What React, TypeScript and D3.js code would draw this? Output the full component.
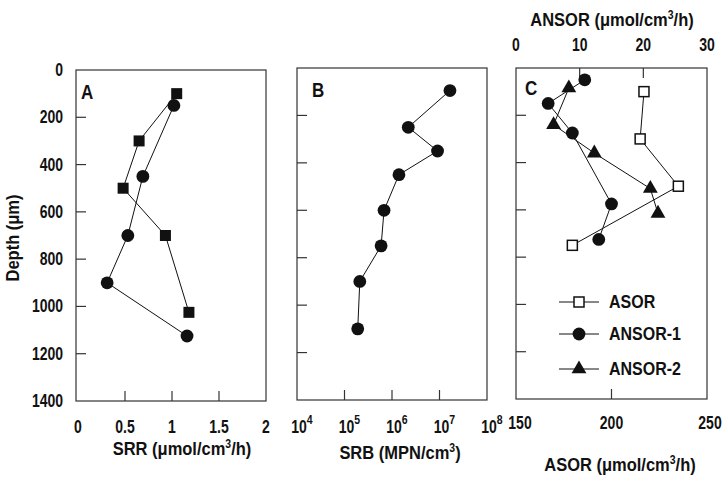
import React from "react";
import * as d3 from "d3";

const depthTicks = [0, 200, 400, 600, 800, 1000, 1200, 1400];
const srrTicks = [0, 0.5, 1, 1.5, 2];
const srbTicks = [1e4, 1e5, 1e6, 1e7, 1e8];
const asorTicks = [150, 200, 250];
const ansorTicks = [0, 10, 20, 30];

// panel A: SRR, two profiles
const srrSquareDepth = [100, 300, 500, 700, 1025];
const srrSquare = [1.05, 0.65, 0.48, 0.93, 1.18];
const srrCircleDepth = [150, 450, 700, 900, 1125];
const srrCircle = [1.02, 0.69, 0.53, 0.31, 1.16];

// panel B: SRB counts
const srbDepth = [95, 250, 350, 450, 600, 750, 900, 1100];
const srb = [1.66e7, 2.2e6, 9.1e6, 1.4e6, 6.8e5, 5.9e5, 2.1e5, 1.9e5];

// panel C: ASOR (bottom axis), ANSOR (top axis)
const asorDepth = [100, 300, 500, 750];
const asor = [217, 215, 235, 179.5];
const ansor1Depth = [50, 150, 275, 575, 725];
const ansor1 = [10.8, 5.05, 8.85, 15, 13];
const ansor2Depth = [85, 240, 360, 510, 615];
const ansor2 = [8.3, 5.9, 12.3, 21.1, 22.3];

const legendNames = ["ASOR", "ANSOR-1", "ANSOR-2"];

const font = "'Liberation Sans', Arial, sans-serif";
const ink = "#111";
const frame = "#333";
const tickLen = 10;

const pA = { l: 76, r: 266, t: 70, b: 401 };
const pB = { l: 297, r: 487, t: 68, b: 400 };
const pC = { l: 516, r: 707, t: 68, b: 399 };

const line = (pts: [number, number][]) => d3.line()(pts) || "";

// the scanned lettering is taller than it is wide, so stretch it a bit
const T: React.FC<any> = ({ x, y, size = 14, stretch = 1.25, anchor = "start", rotate = 0, children }) => (
  <text
    transform={`translate(${x},${y}) rotate(${rotate}) scale(1,${stretch})`}
    textAnchor={anchor}
    style={{ fontFamily: font, fontSize: size, fontWeight: 700, fill: ink }}
  >
    {children}
  </text>
);

const Marker: React.FC<{ kind: string; x: number; y: number }> = ({ kind, x, y }) => {
  if (kind === "circle") return <circle cx={x} cy={y} r={6.4} fill={ink} />;
  if (kind === "square") return <rect x={x - 5.5} y={y - 5.5} width={11} height={11} fill={ink} />;
  if (kind === "open") return <rect x={x - 5} y={y - 5} width={10} height={10} fill="#fff" stroke={ink} strokeWidth={1.5} />;
  const tri = d3.symbol(d3.symbolTriangle, 95)() || "";
  return <path d={tri} transform={`translate(${x},${y})`} fill={ink} />;
};

const Series: React.FC<{ xs: number[]; ys: number[]; kind: string; sx: any; sy: any }> = ({ xs, ys, kind, sx, sy }) => {
  const pts: [number, number][] = xs.map((v, i) => [sx(v), sy(ys[i])]);
  return (
    <g>
      <path d={line(pts)} fill="none" stroke={ink} strokeWidth={1} />
      {pts.map((p, i) => (
        <Marker key={i} kind={kind} x={p[0]} y={p[1]} />
      ))}
    </g>
  );
};

const Frame: React.FC<{ p: any }> = ({ p }) => (
  <rect x={p.l} y={p.t} width={p.r - p.l} height={p.b - p.t} fill="none" stroke={frame} strokeWidth={1.2} />
);

const LeftTicks: React.FC<{ p: any; sy: any }> = ({ p, sy }) => (
  <g stroke={frame} strokeWidth={1.2}>
    {depthTicks.slice(1, -1).map((d) => (
      <line key={d} x1={p.l} x2={p.l + tickLen} y1={sy(d)} y2={sy(d)} />
    ))}
  </g>
);

const Cubed: React.FC<{ pre: string; post: string }> = ({ pre, post }) => (
  <>
    {pre}
    <tspan dy={-6} fontSize={10.5}>3</tspan>
    <tspan dy={6}>{post}</tspan>
  </>
);

export default function App() {
  const yA = d3.scaleLinear().domain([0, 1400]).range([pA.t, pA.b]);
  const yB = d3.scaleLinear().domain([0, 1400]).range([pB.t, pB.b]);
  const yC = d3.scaleLinear().domain([0, 1400]).range([pC.t, pC.b]);
  const xA = d3.scaleLinear().domain([0, 2]).range([pA.l + 2, pA.r]);
  const xB = d3.scaleLog().domain([1e4, 1e8]).range([pB.l, pB.r]);
  const xC = d3.scaleLinear().domain([150, 250]).range([pC.l, pC.r]);
  const xCt = d3.scaleLinear().domain([0, 30]).range([pC.l, pC.r]);

  const legendY = [302, 334, 369];
  const legendKinds = ["open", "circle", "triangle"];
  const titleSize = 16.5;

  return (
    <svg width={726} height={480} style={{ position: "absolute", left: 0, top: 0, background: "#fff" }}>
      <rect width={726} height={480} fill="#fff" />

      {/* Panel A */}
      <Frame p={pA} />
      <LeftTicks p={pA} sy={yA} />
      <g stroke={frame} strokeWidth={1.2}>
        {srrTicks.slice(1, -1).map((t) => (
          <line key={t} x1={xA(t)} x2={xA(t)} y1={pA.b} y2={pA.b - tickLen} />
        ))}
      </g>
      {depthTicks.map((d) => (
        <T key={d} x={63} y={yA(d) + 6} anchor="end">{d}</T>
      ))}
      {srrTicks.map((t) => (
        <T key={t} x={xA(t)} y={433} anchor="middle">{t}</T>
      ))}
      <T x={pA.l + 5} y={99} size={17} stretch={1.15}>A</T>
      <Series xs={srrSquare} ys={srrSquareDepth} kind="square" sx={xA} sy={yA} />
      <Series xs={srrCircle} ys={srrCircleDepth} kind="circle" sx={xA} sy={yA} />
      <T x={182} y={455} size={titleSize} stretch={1.15} anchor="middle">
        <Cubed pre="SRR (μmol/cm" post="/h)" />
      </T>
      <T x={19} y={238} size={titleSize} stretch={1.15} anchor="middle" rotate={-90}>
        Depth (μm)
      </T>

      {/* Panel B */}
      <Frame p={pB} />
      <LeftTicks p={pB} sy={yB} />
      <g stroke={frame} strokeWidth={1.2}>
        {srbTicks.slice(1, -1).map((t) => (
          <line key={t} x1={xB(t)} x2={xB(t)} y1={pB.b} y2={pB.b - tickLen} />
        ))}
      </g>
      {srbTicks.map((t) => (
        <T key={t} x={xB(t) + 5} y={433} anchor="middle">
          10<tspan dy={-7} fontSize={10.5}>{Math.round(Math.log10(t))}</tspan>
        </T>
      ))}
      <T x={pB.l + 15} y={97} size={17} stretch={1.15}>B</T>
      <Series xs={srb} ys={srbDepth} kind="circle" sx={xB} sy={yB} />
      <T x={400} y={459} size={titleSize} stretch={1.15} anchor="middle">
        <Cubed pre="SRB (MPN/cm" post=")" />
      </T>

      {/* Panel C */}
      <Frame p={pC} />
      <LeftTicks p={pC} sy={yC} />
      <g stroke={frame} strokeWidth={1.2}>
        {asorTicks.slice(1, -1).map((t) => (
          <line key={t} x1={xC(t)} x2={xC(t)} y1={pC.b} y2={pC.b - tickLen} />
        ))}
        {ansorTicks.slice(1, -1).map((t) => (
          <line key={t} x1={xCt(t)} x2={xCt(t)} y1={pC.t} y2={pC.t + tickLen} />
        ))}
      </g>
      {asorTicks.map((t) => (
        <T key={t} x={xC(t) + (t === 150 ? 4 : t === 250 ? 3 : 0)} y={429} anchor="middle">{t}</T>
      ))}
      {ansorTicks.map((t) => (
        <T key={t} x={xCt(t)} y={51} anchor="middle">{t}</T>
      ))}
      <T x={pC.l + 9} y={95} size={17} stretch={1.15}>C</T>
      <Series xs={asor} ys={asorDepth} kind="open" sx={xC} sy={yC} />
      <Series xs={ansor1} ys={ansor1Depth} kind="circle" sx={xCt} sy={yC} />
      <Series xs={ansor2} ys={ansor2Depth} kind="triangle" sx={xCt} sy={yC} />
      <T x={620} y={471} size={titleSize} stretch={1.15} anchor="middle">
        <Cubed pre="ASOR (μmol/cm" post="/h)" />
      </T>
      <T x={612} y={26} size={titleSize} stretch={1.15} anchor="middle">
        <Cubed pre="ANSOR (μmol/cm" post="/h)" />
      </T>

      {/* Legend */}
      {legendNames.map((name, i) => (
        <g key={name}>
          <line x1={559} x2={599} y1={legendY[i]} y2={legendY[i]} stroke={ink} strokeWidth={1} />
          <Marker kind={legendKinds[i]} x={579} y={legendY[i]} />
          <T x={609} y={legendY[i] + 6} size={16} stretch={1.15}>{name}</T>
        </g>
      ))}
    </svg>
  );
}
